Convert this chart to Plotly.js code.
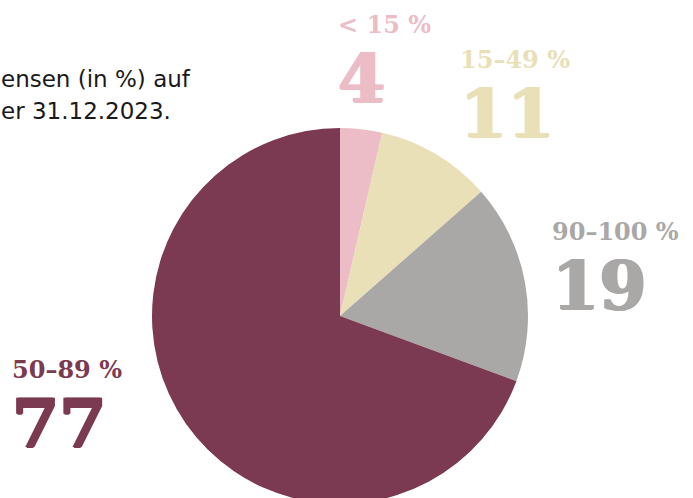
<!DOCTYPE html>
<html>
<head>
<meta charset="utf-8">
<script src="https://cdn.plot.ly/plotly-3.0.1.min.js"></script>
<style>
html,body{margin:0;padding:0;overflow:hidden;background:#fff;width:693px;height:498px;}
#chart{width:693px;height:520px;}
</style>
</head>
<body>
<div id="chart"></div>
<script>
// Data
const categories = ["< 15 %", "15–49 %", "90–100 %", "50–89 %"];
const values = [4, 11, 19, 77];
const colors = ["#ecbdc7", "#e9e0b8", "#a9a8a7", "#7b3a51"];
const titleLines = ["ensen (in %) auf", "er 31.12.2023."];

// Layout helpers (pixel -> paper)
const W = 693, H = 520;
const px = x => x / W;
const py = y => 1 - y / H;

// Label anchor positions: left x, baseline of the big number (pixels)
const labelPos = [
  [335, 103],
  [457, 138],
  [549, 310],
  [9, 448]
];

const cx = 340, cy = 316, r = 188;

const trace = {
  type: "pie",
  values: values,
  labels: categories,
  marker: {colors: colors, line: {width: 0}},
  sort: false,
  direction: "clockwise",
  rotation: 0,
  textinfo: "none",
  hoverinfo: "label+value",
  showlegend: false,
  domain: {x: [px(cx - r), px(cx + r)], y: [py(cy + r), py(cy - r)]}
};

const annotations = [];
titleLines.forEach((t, i) => {
  annotations.push({
    text: t, xref: "paper", yref: "paper",
    x: px(-1), y: py(79 + i * 32), xanchor: "left", yanchor: "middle",
    showarrow: false,
    font: {family: "DejaVu Sans, sans-serif", size: 23, color: "#1a1a1a"}
  });
});
categories.forEach((c, i) => {
  const [lx, nb] = labelPos[i];
  const col = colors[i];
  const heavy = "text-shadow:1.2px 0 0 " + col + ",-1.2px 0 0 " + col + ",0 0.8px 0 " + col;
  annotations.push({
    text: '<span style="font-size:24px">' + c + '</span><br><span style="font-size:68px;' + heavy + '">' + values[i] + '</span>',
    xref: "paper", yref: "paper",
    x: px(lx + 1), y: py(nb + 17), xanchor: "left", yanchor: "bottom",
    align: "left",
    showarrow: false,
    font: {family: "DejaVu Serif, serif", size: 53, color: col, weight: 700}
  });
});

const layout = {
  width: W, height: H,
  margin: {l: 0, r: 0, t: 0, b: 0},
  paper_bgcolor: "#ffffff",
  annotations: annotations
};

Plotly.newPlot("chart", [trace], layout, {displayModeBar: false, staticPlot: true});
</script>
</body>
</html>
